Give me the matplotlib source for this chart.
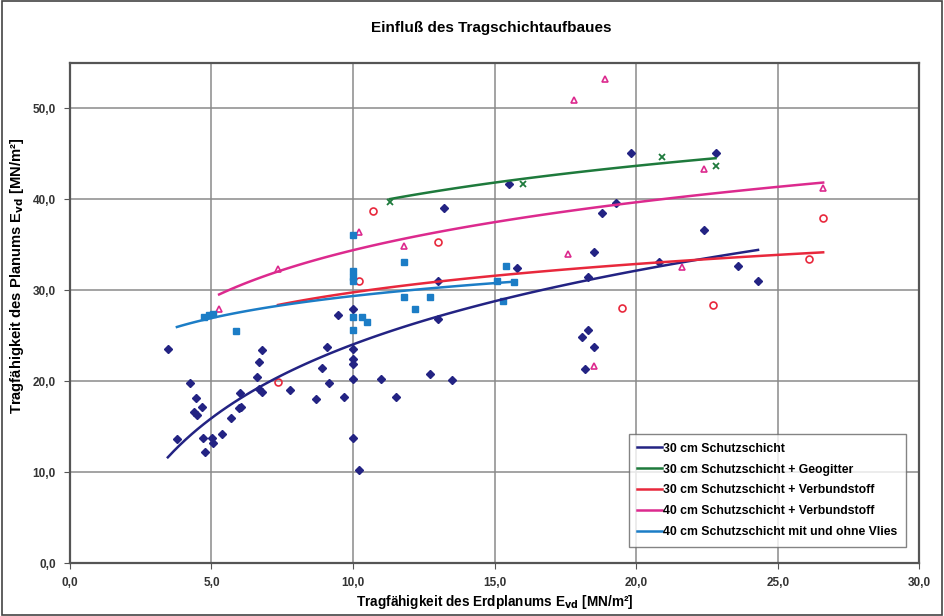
import numpy as np
import matplotlib
matplotlib.use("Agg")
import matplotlib.pyplot as plt
from matplotlib.ticker import MultipleLocator, FuncFormatter
from matplotlib.patches import Rectangle

plt.rcParams['font.family'] = ['Liberation Sans', 'DejaVu Sans']

# 30 cm Schutzschicht (dark blue diamonds)
s30_x = [3.46, 3.78, 4.24, 4.45, 4.66, 4.38, 4.48, 4.70, 4.77, 5.02, 5.05, 5.37, 5.69,
         5.97, 6.04, 6.01, 6.60, 6.68, 6.78, 6.68, 6.78, 7.77, 8.69, 8.90, 9.08, 9.15,
         9.47, 9.68, 10.0, 10.0, 10.0, 10.0, 10.0, 10.0, 10.2, 11.0, 11.5, 12.7, 13.5,
         13.0, 13.0, 13.2, 15.5, 15.8, 18.3, 18.5, 18.8, 19.3, 19.8, 22.8, 22.4, 20.8,
         23.6, 24.3, 18.1, 18.3, 18.5, 18.2]
s30_y = [23.5, 13.6, 19.8, 18.2, 17.2, 16.6, 16.3, 13.7, 12.2, 13.7, 13.2, 14.2, 15.9,
         17.0, 17.2, 18.7, 20.4, 22.1, 23.4, 19.1, 18.8, 19.0, 18.0, 21.4, 23.8, 19.8,
         27.3, 18.3, 27.9, 23.5, 22.4, 21.9, 20.2, 13.7, 10.2, 20.2, 18.3, 20.8, 20.1,
         26.8, 31.0, 39.0, 41.7, 32.4, 31.4, 34.2, 38.5, 39.6, 45.1, 45.1, 36.6, 33.1,
         32.7, 31.0, 24.8, 25.6, 23.7, 21.3]

# 30 cm Schutzschicht + Geogitter (green x)
geo_x = [11.3, 16.0, 20.9, 22.8]
geo_y = [39.7, 41.7, 44.6, 43.7]

# 30 cm Schutzschicht + Verbundstoff (red circles)
v30_x = [7.35, 10.7, 13.0, 10.2, 19.5, 26.6, 26.1, 22.7]
v30_y = [19.9, 38.7, 35.3, 31.0, 28.0, 37.9, 33.4, 28.4]

# 40 cm Schutzschicht + Verbundstoff (magenta triangles)
v40_x = [5.27, 7.35, 10.2, 11.8, 17.8, 18.9, 17.6, 18.5, 22.4, 21.6, 26.6]
v40_y = [27.9, 32.3, 36.4, 34.9, 50.9, 53.2, 34.0, 21.7, 43.3, 32.6, 41.2]

# 40 cm Schutzschicht mit und ohne Vlies (blue squares)
vl_x = [4.73, 4.90, 5.05, 5.87, 10.0, 10.0, 10.0, 10.0, 10.0, 10.0, 10.3, 10.5,
        11.8, 11.8, 12.2, 12.7, 15.4, 15.1, 15.7, 15.3]
vl_y = [27.1, 27.3, 27.4, 25.5, 36.1, 32.1, 31.5, 31.0, 27.1, 25.6, 27.0, 26.5,
        33.1, 29.2, 27.9, 29.2, 32.7, 31.0, 30.9, 28.8]

# logarithmic trendlines y = a*ln(x) + b as drawn in the chart, with x range
trend_names = ["30 cm Schutzschicht", "30 cm Schutzschicht + Geogitter",
               "30 cm Schutzschicht + Verbundstoff", "40 cm Schutzschicht + Verbundstoff",
               "40 cm Schutzschicht mit und ohne Vlies"]
trend_a = [11.7, 6.4, 4.5, 7.6, 3.5]
trend_b = [-2.9, 24.5, 19.4, 16.9, 21.3]
trend_xmin = [3.46, 11.3, 7.35, 5.27, 3.78]
trend_xmax = [24.3, 22.8, 26.6, 26.6, 15.7]

colors = ["#232383", "#1E7A3C", "#E8283C", "#DC2A8E", "#1C7DC6"]

fig = plt.figure(figsize=(9.44, 6.16), dpi=100)
ax = fig.add_axes([0.074, 0.086, 0.9, 0.812])

ax.plot(s30_x, s30_y, 'D', color=colors[0], markersize=3.8, zorder=3)
ax.plot(geo_x, geo_y, 'x', color=colors[1], markersize=5, mew=1.3, zorder=3)
ax.plot(v30_x, v30_y, 'o', mfc='none', mec=colors[2], markersize=5, mew=1.2, zorder=3)
ax.plot(v40_x, v40_y, '^', mfc='none', mec=colors[3], markersize=5, mew=1.2, zorder=3)
ax.plot(vl_x, vl_y, 's', color=colors[4], markersize=4.8, zorder=3)

for i in range(len(trend_names)):
    xs = np.linspace(trend_xmin[i], trend_xmax[i], 100)
    ax.plot(xs, trend_a[i] * np.log(xs) + trend_b[i], '-', color=colors[i], lw=1.8,
            label=trend_names[i], zorder=4)

ax.set_xlim(0, 30)
ax.set_ylim(0, 55)
ax.xaxis.set_major_locator(MultipleLocator(5))
ax.yaxis.set_major_locator(MultipleLocator(10))
fmt = FuncFormatter(lambda v, p: f"{v:.1f}".replace('.', ','))
ax.xaxis.set_major_formatter(fmt)
ax.yaxis.set_major_formatter(fmt)
ax.grid(True, color='#8a8a8a', lw=1.1)
ax.set_axisbelow(True)
for s in ax.spines.values():
    s.set_color('#555555')
    s.set_linewidth(1.6)
ax.tick_params(length=4, color='#555555', labelsize=8.5, pad=6)
for lab in ax.get_xticklabels() + ax.get_yticklabels():
    lab.set_fontweight('bold')
    lab.set_color('#333333')

ax.set_xlabel("Tragfähigkeit des Erdplanums E$_{\\mathbf{vd}}$ [MN/m²]", fontsize=9.8,
              fontweight='bold', labelpad=3)
ax.set_ylabel("Tragfähigkeit des Planums E$_{\\mathbf{vd}}$ [MN/m²]", fontsize=10.6,
              fontweight='bold')
ax.yaxis.set_label_coords(-0.052, 0.575)
fig.text(0.52, 0.955, "Einfluß des Tragschichtaufbaues", ha='center', va='center',
         fontsize=11, fontweight='bold')

leg = ax.legend(loc='lower right', bbox_to_anchor=(0.984, 0.033), borderaxespad=0,
                fontsize=8.8, frameon=True, fancybox=False, handlelength=2.0,
                handletextpad=0.1, labelspacing=0.72, borderpad=0.7)
leg.get_frame().set_edgecolor('#666666')
leg.get_frame().set_linewidth(1.0)
for t in leg.get_texts():
    t.set_fontweight('bold')

fig.patches.append(Rectangle((0.002, 0.002), 0.996, 0.996, transform=fig.transFigure,
                             fill=False, edgecolor='#444444', lw=1.2))

fig.savefig("out.png", dpi=100)
